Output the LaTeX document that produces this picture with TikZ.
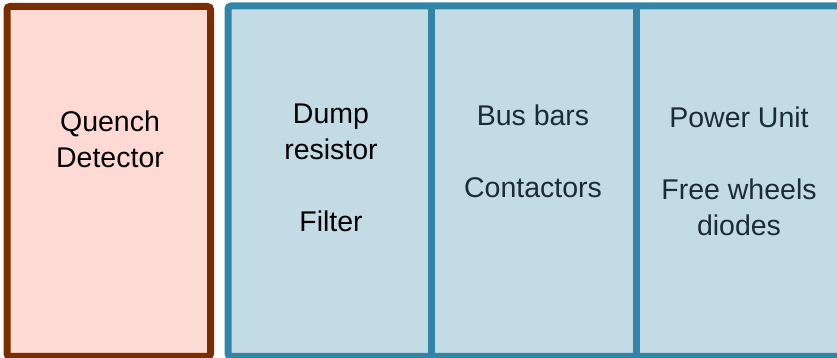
\documentclass[tikz,border=0pt]{standalone}
\usepackage{fontspec}
\setmainfont{Liberation Sans}
\definecolor{qdline}{RGB}{122,46,0}
\definecolor{qdfill}{RGB}{255,217,211}
\definecolor{psline}{RGB}{49,133,166}
\definecolor{psfill}{RGB}{195,219,229}
\definecolor{pstext}{RGB}{26,44,56}
\begin{document}
\begin{tikzpicture}[x=1pt,y=1pt,
  box/.style={line width=7pt,rounded corners=3pt},
  label/.style={align=center,font=\fontsize{28.5}{36}\selectfont}]
\useasboundingbox (0,0) rectangle (837,358);
\filldraw[box,draw=qdline,fill=qdfill] (7,1.5) rectangle (210.5,351.5);
\filldraw[box,draw=psline,fill=psfill] (228,1.5) rectangle (845,352);
\draw[line width=7pt,psline] (431.5,1.5) -- (431.5,352);
\draw[line width=7pt,psline] (636,1.5) -- (636,352);

\node[label] (quench) at (110,219) {Quench\\Detector};
\node[label] (dump) at (331,190) {Dump\\resistor\\[36pt]Filter};
\node[label,text=pstext] (bus) at (533,207) {Bus bars\\[36pt]Contactors};
\node[label,text=pstext] (power) at (739,187) {Power Unit\\[36pt]Free wheels\\diodes};
\end{tikzpicture}
\end{document}
